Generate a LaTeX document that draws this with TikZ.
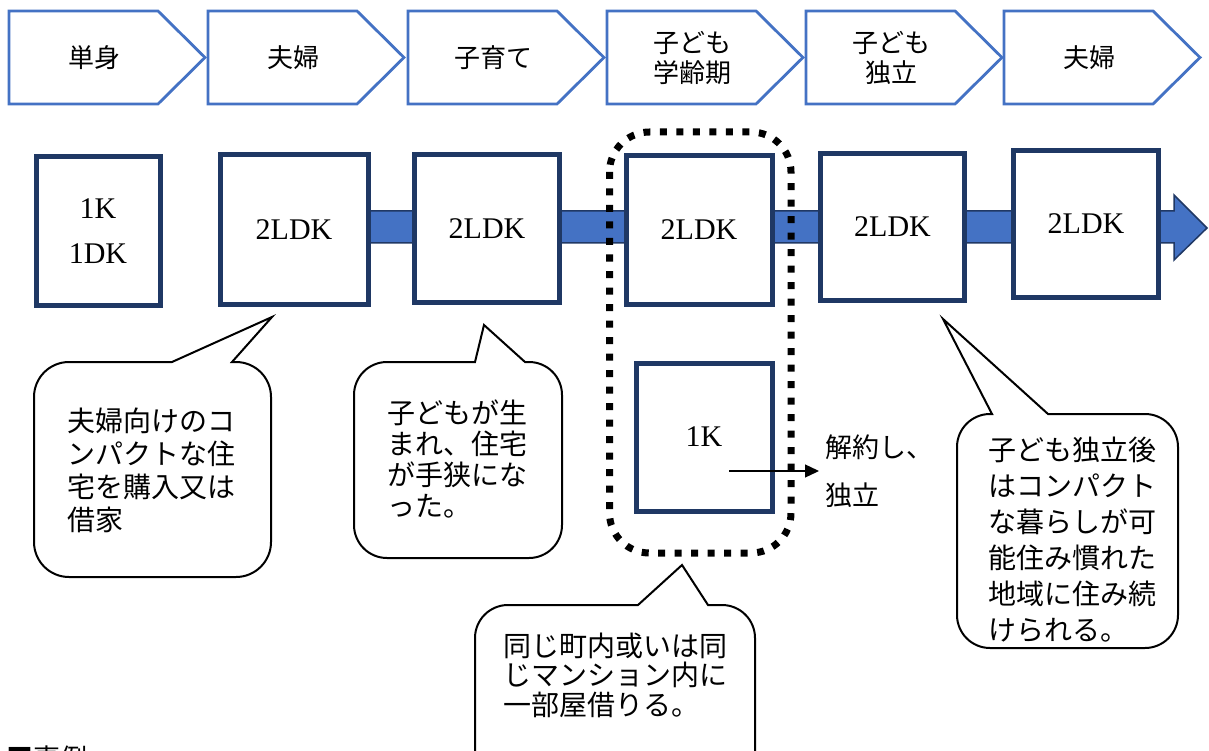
\documentclass[tikz,border=0pt]{standalone}
\usepackage{fontspec}
\setmainfont{Liberation Serif}
\newfontfamily\cjk{Noto Sans CJK JP}
\usetikzlibrary{arrows.meta}
\definecolor{chevblue}{HTML}{4472C4}
\definecolor{navy}{HTML}{1F3864}
\definecolor{bandedge}{HTML}{203864}
\tikzset{
  chev/.style={draw=chevblue, line width=2.8pt, fill=white, line join=miter},
  chevtext/.style={font=\cjk\fontsize{26}{30}\selectfont, align=center, inner sep=0},
  room/.style={draw=navy, line width=5pt, fill=white, inner sep=0, align=center,
    font=\fontsize{30}{45}\selectfont},
  band/.style={fill=chevblue, draw=bandedge, line width=1.5pt, line join=miter},
  dotbox/.style={draw=black, line width=7pt, dash pattern=on 7pt off 9.5pt, rounded corners=40pt},
  balloonline/.style={draw=black, line width=2pt, fill=white, line join=miter},
  note/.style={font=\cjk\fontsize{28}{#1}\selectfont, align=left, inner sep=0},
  note/.default=33,
  leave/.style={-{Triangle[length=14pt,width=13pt]}, line width=1.3pt, black}
}
% chevron: left x, name, text
\newcommand{\chevron}[3]{%
  \draw[chev] (#1,11) -- ({#1+149},11) -- ({#1+196},57.5) -- ({#1+149},104) -- (#1,104) -- cycle;
  \node[chevtext] (#2) at ({#1+85},57.5) {#3};
}
% balloon: L T R B r a b tx ty
\newcommand{\balloon}[9]{%
  \draw[balloonline] (#6,#2) -- (#8,#9) -- (#7,#2) -- ({#3-#5},#2)
    .. controls ({#3-0.448*#5},#2) and (#3,{#2+0.448*#5}) .. (#3,{#2+#5})
    -- (#3,{#4-#5})
    .. controls (#3,{#4-0.448*#5}) and ({#3-0.448*#5},#4) .. ({#3-#5},#4)
    -- ({#1+#5},#4)
    .. controls ({#1+0.448*#5},#4) and (#1,{#4-0.448*#5}) .. (#1,{#4-#5})
    -- (#1,{#2+#5})
    .. controls (#1,{#2+0.448*#5}) and ({#1+0.448*#5},#2) .. ({#1+#5},#2)
    -- cycle;
}
\begin{document}
\begin{tikzpicture}[x=1pt,y=-1pt]
\useasboundingbox (0,0) rectangle (1209,751);
\fill[white] (0,0) rectangle (1209,751);

% life stages
\chevron{9}{s1}{単身}
\chevron{208}{s2}{夫婦}
\chevron{408}{s3}{子育て}
\chevron{607}{s4}{子ども\\学齢期}
\chevron{806}{s5}{子ども\\独立}
\chevron{1004}{s6}{夫婦}

% timeline band
\draw[band] (300,211) -- (1174,211) -- (1174,195) -- (1207,228) -- (1174,260) -- (1174,243) -- (300,243) -- cycle;

% dwellings
\node[room, minimum width=124pt, minimum height=148pt] (r1) at (98,231) {1K\\1DK};
\node[room, minimum width=148pt, minimum height=149pt] (r2) at (294,229.5) {2LDK};
\node[room, minimum width=145pt, minimum height=147pt] (r3) at (487,228.5) {2LDK};
\node[room, minimum width=146pt, minimum height=148pt] (r4) at (699,230) {2LDK};
\node[room, minimum width=144pt, minimum height=147pt] (r5) at (892.5,227) {2LDK};
\node[room, minimum width=145pt, minimum height=146pt] (r6) at (1086,224) {2LDK};
\node[room, minimum width=136pt, minimum height=148pt] (r7) at (704,437) {1K};

% dotted group
\draw[dotbox] (609.5,132) rectangle (791,553);

% leaving arrow
\coordinate (lv0) at (729,471);
\coordinate (lv1) at (819,471);
\draw[leave] (lv0) -- (lv1);
\node[note=48, font=\cjk\fontsize{27}{48}\selectfont, anchor=west] (lvtext) at (825,471) {解約し、\\独立};

% balloons
\balloon{34}{362}{271}{577}{35}{172}{232}{272}{317}
\node[note=33, anchor=west] (b1) at (67,470) {夫婦向けのコ\\ンパクトな住\\宅を購入又は\\借家};

\balloon{354}{362}{562}{558}{33}{475}{525}{484}{325}
\node[note=31, anchor=west] (b2) at (387,459) {子どもが生\\まれ、住宅\\が手狭にな\\った。};

\balloon{475}{605}{755}{800}{33}{638}{708}{682}{565}
\node[note=29.5, anchor=west] (b3) at (503,675) {同じ町内或いは同\\じマンション内に\\一部屋借りる。};

\balloon{957}{414}{1178}{648}{33}{992}{1048}{943}{319}
\node[note=36, anchor=west] (b4) at (988,540) {子ども独立後\\はコンパクト\\な暮らしが可\\能住み慣れた\\地域に住み続\\けられる。};

% caption (cut off at the bottom edge, as in the reference)
\node[anchor=base west, inner sep=0, font=\cjk\fontsize{27}{27}\selectfont] (cap) at (6,768) {■事例};
\end{tikzpicture}
\end{document}
